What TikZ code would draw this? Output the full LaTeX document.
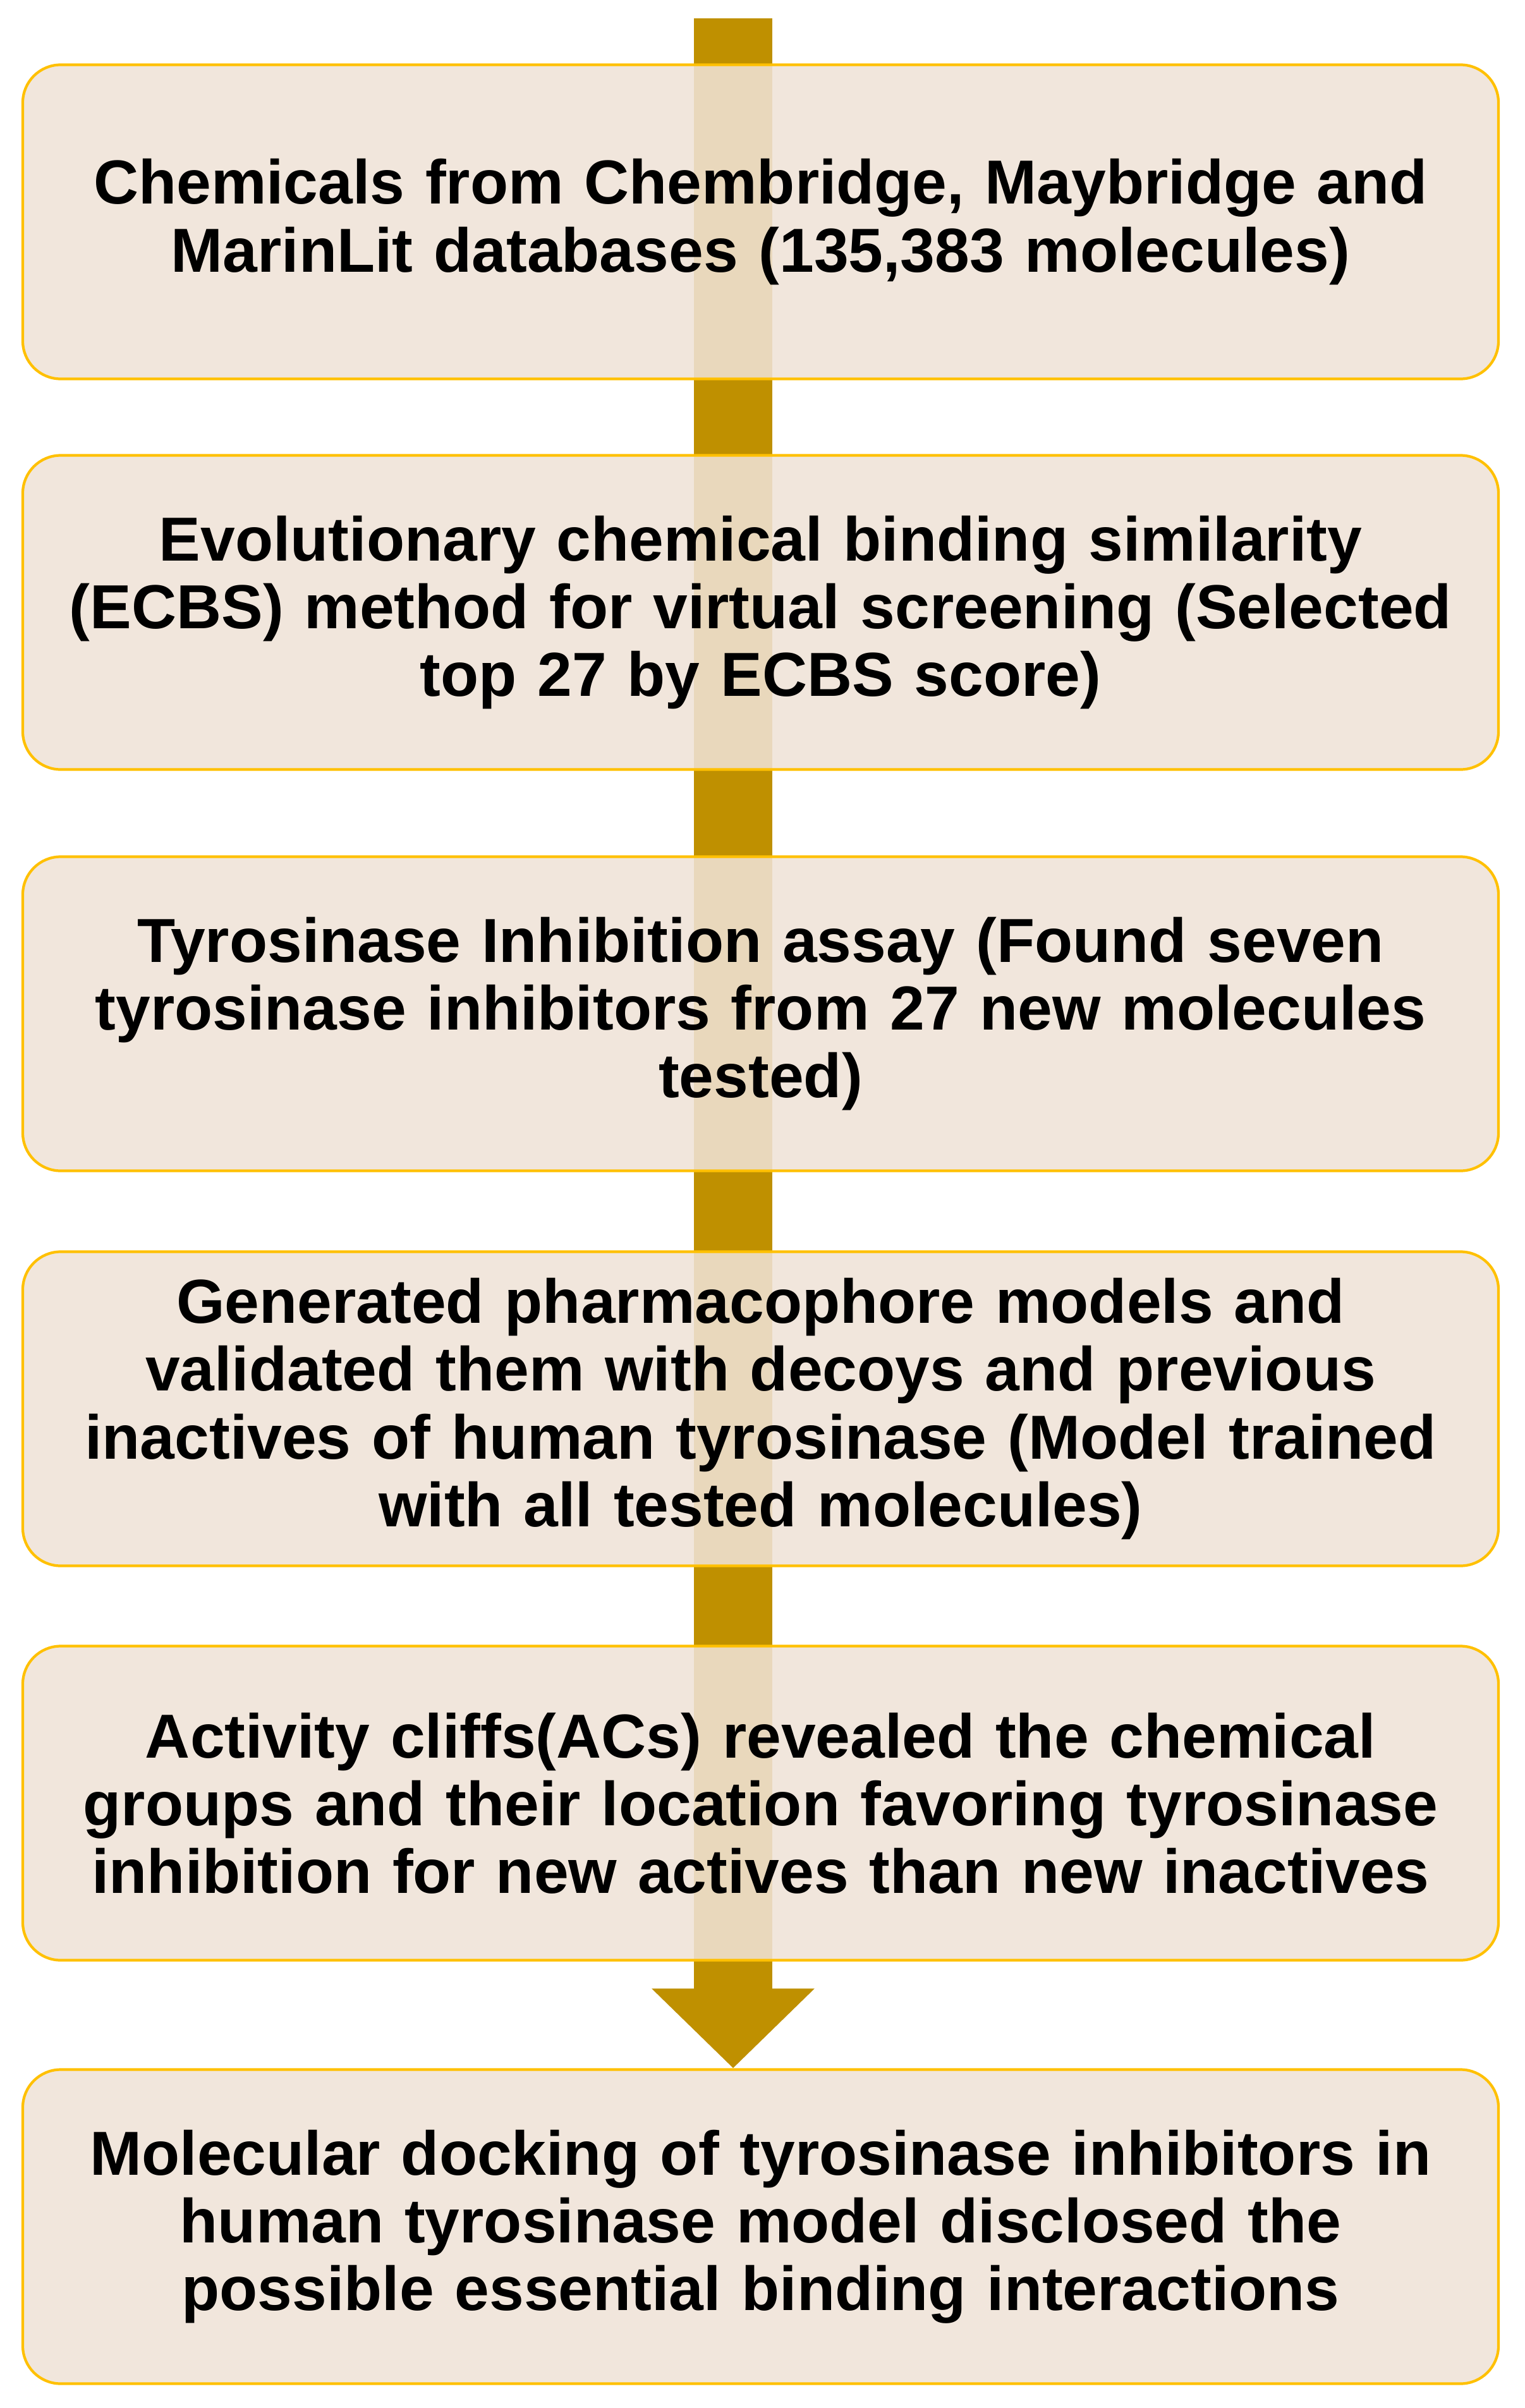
\documentclass[tikz,border=0pt]{standalone}
\usepackage{fontspec}
\setmainfont{Liberation Sans}
\usetikzlibrary{arrows.meta,backgrounds}

\definecolor{stepfill}{HTML}{EFE3D7}
\definecolor{stepline}{HTML}{FFC000}
\definecolor{flowarrow}{HTML}{BF9000}

\tikzset{
  stepbox/.style={draw=stepline, line width=1.2pt, fill=stepfill, fill opacity=0.88,
    text opacity=1, rounded corners=0.6cm, minimum width=23.35cm, minimum height=4.97cm,
    text width=23cm, align=center, inner sep=0pt,
    font=\bfseries\fontsize{28}{30.5}\selectfont},
}

\begin{document}
\begin{tikzpicture}
    \useasboundingbox (0,0) rectangle (24.12,-38.10);

    % Steps
    \node[stepbox] (chem) at (12.035,-3.51) {Chemicals from Chembridge, Maybridge and\\ MarinLit databases (135,383 molecules)};
    \node[stepbox] (ecbs) at (12.035,-9.69) {Evolutionary chemical binding similarity\\ (ECBS) method for virtual screening (Selected\\ top 27 by ECBS score)};
    \node[stepbox] (assay) at (12.035,-16.04) {Tyrosinase Inhibition assay (Found seven\\ tyrosinase inhibitors from 27 new molecules\\ tested)};
    \node[stepbox] (pharm) at (12.035,-22.29) {Generated pharmacophore models and\\ validated them with decoys and previous\\ inactives of human tyrosinase (Model trained\\ with all tested molecules)};
    \node[stepbox] (cliffs) at (12.035,-28.53) {Activity cliffs(ACs) revealed the chemical\\ groups and their location favoring tyrosinase\\ inhibition for new actives than new inactives};
    \node[stepbox] (dock) at (12.035,-35.23) {Molecular docking of tyrosinase inhibitors in\\ human tyrosinase model disclosed the\\ possible essential binding interactions};

    % Flow arrow behind the steps
    \coordinate (start) at (11.6,-0.29);
    \begin{pgfonlayer}{background}
        \draw[flowarrow, line width=1.24cm, -{Triangle[width=2.5cm,length=1.26cm]}] (start) -- (start |- dock.north);
    \end{pgfonlayer}
\end{tikzpicture}
\end{document}
